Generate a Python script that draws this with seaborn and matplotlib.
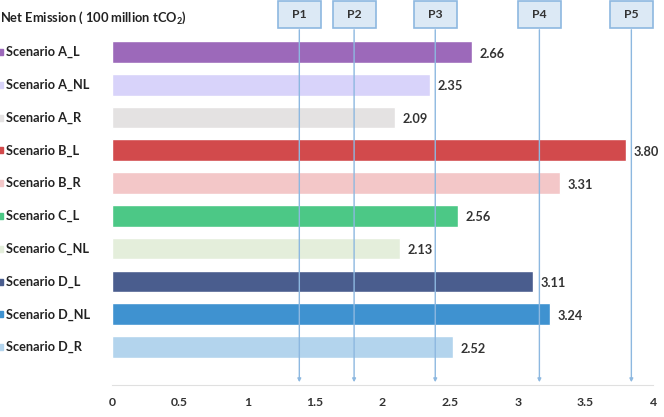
import matplotlib
matplotlib.use("Agg")
import matplotlib.pyplot as plt
import seaborn as sns
import pandas as pd
from matplotlib.transforms import blended_transform_factory
from matplotlib.patches import Rectangle

categories = ["Scenario A_L", "Scenario A_NL", "Scenario A_R", "Scenario B_L", "Scenario B_R",
              "Scenario C_L", "Scenario C_NL", "Scenario D_L", "Scenario D_NL", "Scenario D_R"]
values = [2.66, 2.35, 2.09, 3.80, 3.31, 2.56, 2.13, 3.11, 3.24, 2.52]
colors = ["#9C69BA", "#D8D3FA", "#E4E2E2", "#D24A4C", "#F3C7C8",
          "#4CC886", "#E4EEDB", "#4A5D8E", "#3F92D0", "#B3D4ED"]
p_labels = ["P1", "P2", "P3", "P4", "P5"]
p_values = [1.385, 1.79, 2.39, 3.16, 3.84]
xticks = [0, 0.5, 1, 1.5, 2, 2.5, 3, 3.5, 4]
title = "Net Emission ( 100 million tCO$_2$)"

sns.set_style("white")
plt.rcParams['font.family'] = ['Lato', 'DejaVu Sans']
plt.rcParams['mathtext.fontset'] = 'custom'
plt.rcParams['mathtext.rm'] = 'Lato:bold'
plt.rcParams['mathtext.it'] = 'Lato:bold'
plt.rcParams['mathtext.bf'] = 'Lato:bold'

df = pd.DataFrame({"cat": categories, "val": values})

W, H = 664, 417
fig = plt.figure(figsize=(W / 100, H / 100), dpi=100)
ax_left, ax_right, ax_top, ax_bot = 112, 653, 30, 385
ax = fig.add_axes([ax_left / W, 1 - ax_bot / H, (ax_right - ax_left) / W, (ax_bot - ax_top) / H])

sns.barplot(data=df, x="val", y="cat", hue="cat", palette=colors, orient="h",
            dodge=False, legend=False, width=0.66, ax=ax, saturation=1)

ax.set_xlim(0, 4)
ax.set_ylim(10.16, -0.67)
ax.set_xticks(xticks)
ax.set_xticklabels([("%g" % t) for t in xticks], fontsize=8.8, fontweight="bold", color="#333333")
ax.tick_params(axis="x", length=3, color="#dddddd", pad=6)
ax.set_yticks([])
ax.set_xlabel("")
ax.set_ylabel("")
for s in ["top", "right", "left"]:
    ax.spines[s].set_visible(False)
ax.spines["bottom"].set_color("#e0e0e0")
ax.spines["bottom"].set_linewidth(0.8)

# value labels
for i, v in enumerate(values):
    ax.text(v + 0.055, i + 0.05, "%.2f" % v, va="center", ha="left", fontsize=9.2,
            fontweight="bold", color="#333333")

# category labels with color markers
for i, (c, col) in enumerate(zip(categories, colors)):
    ypix = 52 + i * 32.8
    fig.text(6 / W, 1 - ypix / H, c, fontsize=9.2, fontweight="bold", color="#222222",
             va="center", ha="left")
    fig.patches.append(Rectangle((-3 / W, 1 - (ypix + 3) / H), 6 / W, 6 / H,
                                 transform=fig.transFigure, color=col, figure=fig))

fig.text(0 / W, 1 - 18 / H, title, fontsize=9.3, fontweight="bold", color="#222222",
         va="center", ha="left")

# P lines and boxes
trans = blended_transform_factory(ax.transData, ax.transAxes)
box_top_frac = (ax_bot - 27) / (ax_bot - ax_top)
box_w, box_h = 43, 27
for lab, pv in zip(p_labels, p_values):
    ax.annotate("", xy=(pv, 0.0), xytext=(pv, box_top_frac), xycoords=trans, textcoords=trans,
                arrowprops=dict(arrowstyle="-|>", color="#8DB8E0", lw=1.0, mutation_scale=5),
                annotation_clip=False)
    xd = ax.transData.transform((pv, 0))[0]
    fig.patches.append(Rectangle(((xd - box_w / 2) / W, 1 - (box_h + 1) / H), box_w / W, box_h / H,
                                 transform=fig.transFigure, facecolor="#DCE9F5",
                                 edgecolor="#8DB8E0", lw=1.2, figure=fig, zorder=3))
    fig.text(xd / W, 1 - (box_h / 2 + 1) / H, lab, ha="center", va="center", fontsize=8.8,
             fontweight="bold", color="#333333", zorder=6)

fig.savefig("out.png", dpi=100)
